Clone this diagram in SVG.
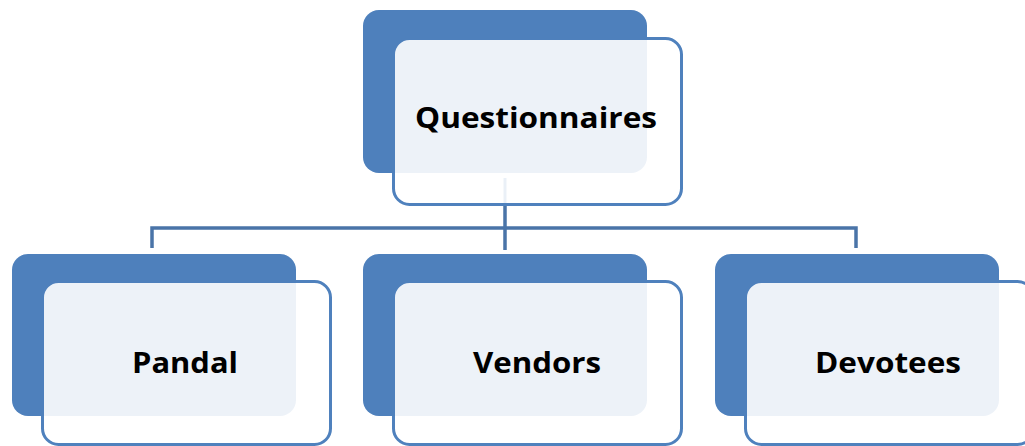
<svg xmlns="http://www.w3.org/2000/svg" width="1025" height="446" viewBox="0 0 1025 446">
<style>
.back{fill:#4F81BD}
.front{fill:#FFFFFF;stroke:#4F81BD;stroke-width:3}
.tint{fill:#4F81BD;fill-opacity:0.1}
.lbl{font-family:"Open Sans","Liberation Sans",sans-serif;font-weight:bold;font-size:29px;fill:#000;text-anchor:middle}
.conn{fill:none;stroke:#4A74A8;stroke-width:3.5}
</style>
<rect width="1025" height="446" fill="#FFFFFF"/>
<g id="connectors">
<path class="conn" d="M152,248 V228 H856 V248 M505,205 V250"/>
</g>
<g id="questionnaires">
<rect class="back" x="363" y="10" width="284" height="163" rx="16"/>
<rect class="front" x="393.5" y="38.5" width="288" height="166" rx="16"/>
<line x1="505" y1="178" x2="505" y2="204" stroke="#4F81BD" stroke-opacity="0.12" stroke-width="3"/>
<rect class="tint" x="363" y="10" width="284" height="163" rx="16"/>
<text class="lbl" x="536" y="128" textLength="242" lengthAdjust="spacingAndGlyphs">Questionnaires</text>
</g>
<g id="pandal">
<rect class="back" x="12" y="254" width="284" height="162" rx="16"/>
<rect class="front" x="42.5" y="281.5" width="288" height="163" rx="16"/>
<rect class="tint" x="12" y="254" width="284" height="162" rx="16"/>
<text class="lbl" x="185" y="373" textLength="106" lengthAdjust="spacingAndGlyphs">Pandal</text>
</g>
<g id="vendors">
<rect class="back" x="363" y="254" width="284" height="162" rx="16"/>
<rect class="front" x="393.5" y="281.5" width="288" height="163" rx="16"/>
<rect class="tint" x="363" y="254" width="284" height="162" rx="16"/>
<text class="lbl" x="537" y="373" textLength="128" lengthAdjust="spacingAndGlyphs">Vendors</text>
</g>
<g id="devotees">
<rect class="back" x="715" y="254" width="284" height="162" rx="16"/>
<rect class="front" x="745.5" y="281.5" width="288" height="163" rx="16"/>
<rect class="tint" x="715" y="254" width="284" height="162" rx="16"/>
<text class="lbl" x="888" y="373" textLength="146" lengthAdjust="spacingAndGlyphs">Devotees</text>
</g>
</svg>
